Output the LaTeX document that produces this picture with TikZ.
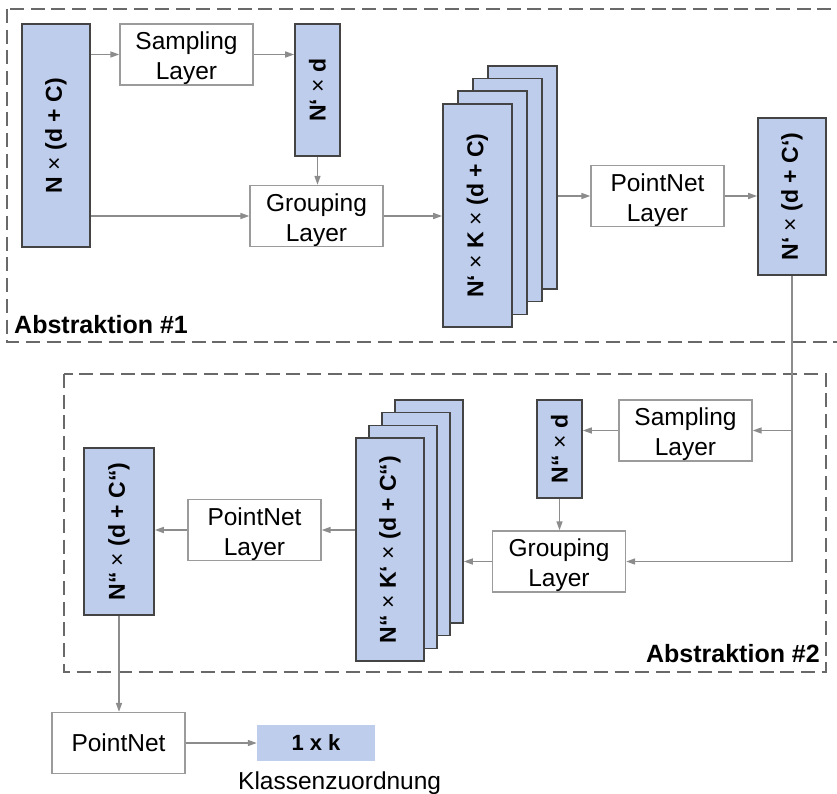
\documentclass[tikz,border=0pt]{standalone}
\usepackage{fontspec}
\setmainfont{Liberation Sans}
\usetikzlibrary{arrows.meta,calc}
\definecolor{tensorfill}{RGB}{191,205,236}
\definecolor{tensorline}{RGB}{68,68,68}
\definecolor{layerline}{RGB}{155,155,155}
\definecolor{flowline}{RGB}{140,140,140}
\definecolor{groupline}{RGB}{105,105,105}
\tikzset{
  tensor/.style={draw=tensorline, fill=tensorfill, line width=1.6pt, inner sep=0pt},
  layerbox/.style={draw=layerline, fill=white, line width=1.3pt, inner sep=0pt,
    minimum width=133pt, minimum height=61pt, align=center,
    font=\fontsize{24.5}{30}\selectfont},
  dimlabel/.style={rotate=90, inner sep=0pt, font=\fontsize{23}{27}\selectfont\bfseries},
  flow/.style={draw=flowline, line width=1.5pt, -{Triangle[length=9pt,width=6pt]}},
  groupframe/.style={draw=groupline, line width=1.6pt, dash pattern=on 14pt off 6.7pt},
  grouptitle/.style={inner sep=0pt, font=\fontsize{25}{30}\selectfont\bfseries},
}
% thin multiplication sign inside the bold dimension labels
\newcommand{\tx}{{\mdseries ×}}
% two-line layer caption, set a little below the box centre
\newcommand{\lyr}[2]{\rule{0pt}{26pt}#1\\#2}
\begin{document}
\begin{tikzpicture}[x=1pt,y=-1pt]
\useasboundingbox (0,0) rectangle (837,794);

% set abstraction frames
\draw[groupframe] (7,9) rectangle (852,342);
\draw[groupframe] (64,374) rectangle (826,672);
\node[grouptitle, anchor=base west] (t1) at (14,333) {Abstraktion \#1};
\node[grouptitle, anchor=base east] (t2) at (820,662) {Abstraktion \#2};

% ---- first abstraction ----
\node[tensor, minimum width=68pt, minimum height=223pt] (A1) at (56,135.5) {};
\node[dimlabel] (A1t) at (A1.center) {N \tx{} (d + C)};
\node[layerbox] (S1) at (186.5,54.5) {\lyr{Sampling}{Layer}};
\node[tensor, minimum width=45pt, minimum height=132pt] (B1) at (317.5,90) {};
\node[dimlabel] (B1t) at (B1.center) {N‘ \tx{} d};
\node[layerbox] (G1) at (316.5,216) {\lyr{Grouping}{Layer}};
\foreach \k/\nm in {3/K1d,2/K1c,1/K1b,0/K1a}
  \node[tensor, minimum width=69pt, minimum height=223pt] (\nm) at ({477.5+15*\k},{215.5-12.7*\k}) {};
\node[dimlabel] (K1t) at (K1a.center) {N‘ \tx{} K \tx{} (d + C)};
\node[layerbox] (P1) at (657.5,196) {\lyr{PointNet}{Layer}};
\node[tensor, minimum width=68pt, minimum height=157pt] (D1) at (792,196.5) {};
\node[dimlabel] (D1t) at (D1.center) {N‘ \tx{} (d + C‘)};

\draw[flow] (A1.east |- S1.west) -- (S1.west);
\draw[flow] (S1.east) -- (S1.east -| B1.west);
\draw[flow] (B1.south) -- (B1.south |- G1.north);
\draw[flow] (A1.east |- G1.west) -- (G1.west);
\draw[flow] (G1.east) -- (G1.east -| K1a.west);
\draw[flow] (K1d.east |- P1.west) -- (P1.west);
\draw[flow] (P1.east) -- (P1.east -| D1.west);

% ---- second abstraction ----
\node[layerbox] (S2) at (685.5,430.5) {\lyr{Sampling}{Layer}};
\node[tensor, minimum width=45pt, minimum height=98pt] (B2) at (559.5,449) {};
\node[dimlabel] (B2t) at (B2.center) {N“ \tx{} d};
\node[layerbox] (G2) at (559,561.5) {\lyr{Grouping}{Layer}};
\foreach \k/\nm in {3/K2d,2/K2c,1/K2b,0/K2a}
  \node[tensor, minimum width=68pt, minimum height=223pt] (\nm) at ({390+13*\k},{549.5-12.7*\k}) {};
\node[dimlabel] (K2t) at (K2a.center) {N“ \tx{} K‘ \tx{} (d + C“)};
\node[layerbox] (P2) at (254.5,530) {\lyr{PointNet}{Layer}};
\node[tensor, minimum width=70pt, minimum height=167pt] (D2) at (119,531.5) {};
\node[dimlabel] (D2t) at (D2.center) {N“ \tx{} (d + C“)};

\coordinate (br) at (D1.south |- S2.east);
\draw[flow] (D1.south) -- (D1.south |- G2.east) -- (G2.east);
\draw[flow] (br) -- (S2.east);
\draw[flow] (S2.west) -- (S2.west -| B2.east);
\draw[flow] (B2.south) -- (B2.south |- G2.north);
\draw[flow] (G2.west) -- (G2.west -| K2d.east);
\draw[flow] (K2a.west |- P2.east) -- (P2.east);
\draw[flow] (P2.west) -- (P2.west -| D2.east);

% ---- classification head ----
\node[layerbox] (F) at (118.5,743) {PointNet};
\node[fill=tensorfill, inner sep=0pt, minimum width=118pt, minimum height=36pt,
      font=\fontsize{22}{26}\selectfont\bfseries] (R) at (316,743) {1 x k};
\node[inner sep=0pt, anchor=base west, font=\fontsize{24.5}{30}\selectfont] (Rt) at (238,789) {Klassenzuordnung};
\draw[flow] (D2.south) -- (D2.south |- F.north);
\draw[flow] (F.east) -- (R.west);
\end{tikzpicture}
\end{document}
